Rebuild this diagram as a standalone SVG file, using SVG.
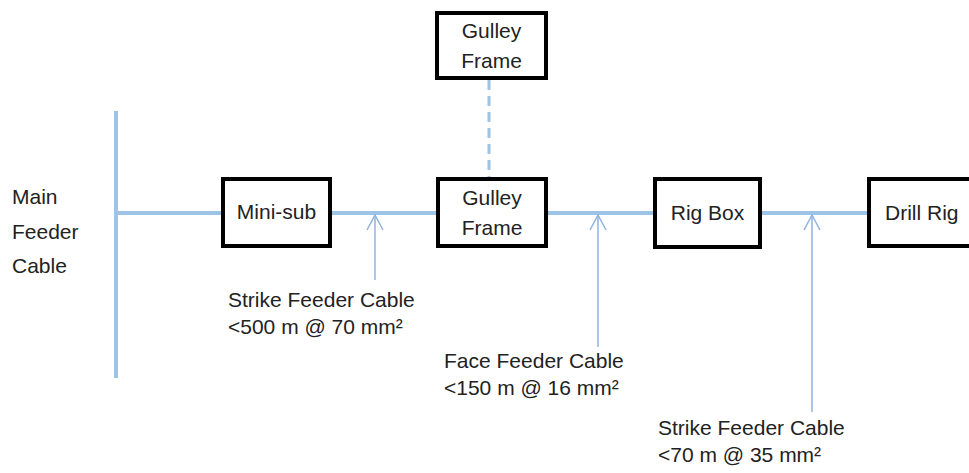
<svg xmlns="http://www.w3.org/2000/svg" width="969" height="473" viewBox="0 0 969 473">
  <style>
    text { font-family: "Liberation Sans", Arial, sans-serif; font-size: 21px; fill: #222; }
    .mid { text-anchor: middle; }
    .box { fill: #fff; stroke: #000; stroke-width: 4; }
    .cable { stroke: #9dc3e6; stroke-width: 4; fill: none; }
    .dash { stroke: #9dc3e6; stroke-width: 3; stroke-dasharray: 10 6; fill: none; }
    .lead { stroke: #8fb3de; stroke-width: 1.5; fill: none; }
  </style>
  <defs>
    <marker id="open" viewBox="-17 -10 20 20" refX="0" refY="0" markerWidth="20" markerHeight="20" markerUnits="userSpaceOnUse" orient="auto">
      <path d="M-15,-8 L0,0 L-15,8" fill="none" stroke="#8fb3de" stroke-width="1.5"/>
    </marker>
  </defs>
  <rect width="969" height="473" fill="#fff"/>

  <g id="connectors">
    <line class="cable" x1="116" y1="111" x2="116" y2="378"/>
    <line class="cable" x1="116" y1="213" x2="223" y2="213"/>
    <line class="cable" x1="330" y1="213" x2="438" y2="213"/>
    <line class="cable" x1="546" y1="213" x2="655" y2="213"/>
    <line class="cable" x1="760" y1="213" x2="869" y2="213"/>
    <line class="dash" x1="489" y1="80" x2="489" y2="177"/>
    <line class="lead" x1="375" y1="280" x2="375" y2="215" marker-end="url(#open)"/>
    <line class="lead" x1="598" y1="347" x2="598" y2="215" marker-end="url(#open)"/>
    <line class="lead" x1="812" y1="412" x2="812" y2="215" marker-end="url(#open)"/>
  </g>

  <g id="main-feeder">
    <text x="12" y="204">Main</text>
    <text x="12" y="239">Feeder</text>
    <text x="12" y="273">Cable</text>
  </g>

  <g id="mini-sub">
    <rect class="box" x="223" y="179" width="107" height="67"/>
    <text class="mid" x="276.5" y="219">Mini-sub</text>
  </g>

  <g id="gulley-frame-top">
    <rect class="box" x="437" y="13" width="109" height="65"/>
    <text class="mid" x="491.5" y="38">Gulley</text>
    <text class="mid" x="491.5" y="68">Frame</text>
  </g>

  <g id="gulley-frame">
    <rect class="box" x="438" y="179" width="108" height="67"/>
    <text class="mid" x="492" y="205">Gulley</text>
    <text class="mid" x="492" y="235">Frame</text>
  </g>

  <g id="rig-box">
    <rect class="box" x="655" y="179" width="105" height="68"/>
    <text class="mid" x="707.5" y="220">Rig Box</text>
  </g>

  <g id="drill-rig">
    <rect class="box" x="869" y="179" width="120" height="67"/>
    <text x="885" y="220">Drill Rig</text>
  </g>

  <g id="label-strike-1">
    <text x="228" y="307">Strike Feeder Cable</text>
    <text x="228" y="334">&lt;500 m @ 70 mm²</text>
  </g>

  <g id="label-face">
    <text x="444" y="368">Face Feeder Cable</text>
    <text x="444" y="395">&lt;150 m @ 16 mm²</text>
  </g>

  <g id="label-strike-2">
    <text x="658" y="435">Strike Feeder Cable</text>
    <text x="658" y="462">&lt;70 m @ 35 mm²</text>
  </g>
</svg>
